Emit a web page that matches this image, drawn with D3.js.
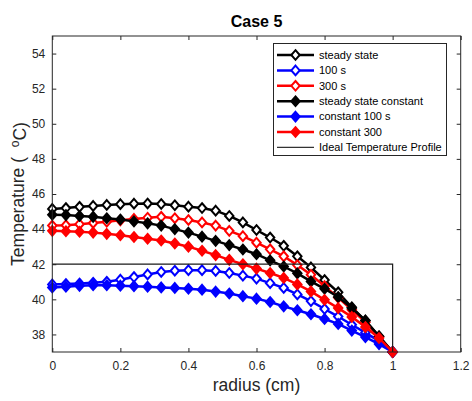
<!DOCTYPE html>
<html>
<head>
<meta charset="utf-8">
<script src="https://cdn.jsdelivr.net/npm/d3@7"></script>
<style>
  body { margin: 0; background: #fff; }
  text { font-family: "Liberation Sans", Arial, sans-serif; }
</style>
</head>
<body>
<div id="container"></div>
<script>
/* DATA */
const radius = d3.range(26).map(i => +(i * 0.04).toFixed(2));

const steadyState = [45.15, 45.2, 45.27, 45.32, 45.38, 45.42, 45.45, 45.46, 45.43, 45.36, 45.28, 45.2, 45.05,
  44.75, 44.38, 43.95, 43.52, 43.05, 42.45, 41.82, 41.1, 40.4, 39.55, 38.78, 37.9, 37.0];
const t100 = [40.85, 40.87, 40.9, 40.94, 41.0, 41.12, 41.27, 41.42, 41.56, 41.63, 41.66, 41.66, 41.62,
  41.5, 41.35, 41.18, 40.92, 40.65, 40.28, 39.9, 39.45, 39.02, 38.55, 38.1, 37.62, 37.0];
const t300 = [44.2, 44.22, 44.28, 44.35, 44.42, 44.5, 44.58, 44.65, 44.7, 44.62, 44.52, 44.38, 44.2,
  43.9, 43.6, 43.23, 42.85, 42.45, 41.95, 41.4, 40.75, 40.1, 39.4, 38.7, 37.85, 37.0];
const steadyConst = [44.82, 44.8, 44.75, 44.7, 44.62, 44.55, 44.44, 44.33, 44.2, 44.0, 43.8, 43.57, 43.33,
  43.09, 42.84, 42.57, 42.22, 41.87, 41.48, 41.02, 40.6, 40.13, 39.5, 38.8, 37.88, 37.0];
const const100 = [40.68, 40.72, 40.77, 40.8, 40.8, 40.78, 40.75, 40.72, 40.68, 40.65, 40.6, 40.55, 40.44,
  40.33, 40.18, 40.04, 39.85, 39.6, 39.38, 39.15, 38.88, 38.6, 38.22, 37.85, 37.45, 37.0];
const const300 = [43.9, 43.88, 43.85, 43.8, 43.73, 43.65, 43.55, 43.45, 43.35, 43.18, 43.0, 42.77, 42.52,
  42.25, 42.0, 41.75, 41.5, 41.22, 40.85, 40.45, 39.97, 39.5, 39.0, 38.42, 37.8, 37.0];

const idealX = [0, 1, 1];
const idealY = [42, 42, 37];

const seriesNames = ["steady state", "100 s", "300 s", "steady state constant", "constant 100 s", "constant 300"];
const seriesValues = [steadyState, t100, t300, steadyConst, const100, const300];
const seriesColors = ["#000000", "#0000ff", "#ff0000", "#000000", "#0000ff", "#ff0000"];
const seriesOpen = [true, true, true, false, false, false];
const idealName = "Ideal Temperature Profile";

const xTicks = [0, 0.2, 0.4, 0.6, 0.8, 1, 1.2];
const yTicks = [38, 40, 42, 44, 46, 48, 50, 52, 54];

/* CONSTANTS */
const width = 472, height = 401;
const margin = {top: 36, bottom: 49, left: 52.3, right: 11.3};
const axisColor = "#262626";

const svg = d3.select("#container").append("svg")
  .attr("width", width)
  .attr("height", height);

// SCALES
const xScale = d3.scaleLinear().domain([0, 1.2]).range([margin.left, width - margin.right]);
const yScale = d3.scaleLinear().domain([37, 55]).range([height - margin.bottom, margin.top]);

// AXES (MATLAB style: ticks inside, box all round)
const x0 = margin.left, x1 = width - margin.right;
const y0 = height - margin.bottom, y1 = margin.top;

const xAxis = d3.axisBottom(xScale).tickValues(xTicks).tickSizeInner(-4).tickSizeOuter(0).tickPadding(9)
  .tickFormat(d => d3.format("")(+d.toFixed(1)));
svg.append("g").attr("transform", `translate(0,${y0})`).call(xAxis)
  .call(g => g.select(".domain").remove())
  .call(g => g.selectAll("line").attr("stroke", axisColor))
  .call(g => g.selectAll("text").attr("fill", axisColor).style("font-size", "12px"));

const yAxis = d3.axisLeft(yScale).tickValues(yTicks).tickSizeInner(-4).tickSizeOuter(0).tickPadding(7);
svg.append("g").attr("transform", `translate(${x0},0)`).call(yAxis)
  .call(g => g.select(".domain").remove())
  .call(g => g.selectAll("line").attr("stroke", axisColor))
  .call(g => g.selectAll("text").attr("fill", axisColor).style("font-size", "12px"));

// top and right ticks
svg.append("g").attr("transform", `translate(0,${y1})`)
  .call(d3.axisTop(xScale).tickValues(xTicks).tickSizeInner(-4).tickSizeOuter(0).tickFormat(""))
  .call(g => g.select(".domain").remove())
  .call(g => g.selectAll("line").attr("stroke", axisColor));
svg.append("g").attr("transform", `translate(${x1},0)`)
  .call(d3.axisRight(yScale).tickValues(yTicks).tickSizeInner(-4).tickSizeOuter(0).tickFormat(""))
  .call(g => g.select(".domain").remove())
  .call(g => g.selectAll("line").attr("stroke", axisColor));

// CURVES
const diamond = "M0,-4.8L4.2,0L0,4.8L-4.2,0Z";
const lineGen = d3.line()
  .x((d, i) => xScale(radius[i]))
  .y(d => yScale(d));

seriesValues.forEach((vals, s) => {
  const g = svg.append("g");
  g.append("path")
    .attr("d", lineGen(vals))
    .attr("fill", "none")
    .attr("stroke", seriesColors[s])
    .attr("stroke-width", 2.5);
  g.selectAll("path.mk")
    .data(vals)
    .join("path")
    .attr("class", "mk")
    .attr("d", diamond)
    .attr("transform", (d, i) => `translate(${xScale(radius[i])},${yScale(d)})`)
    .attr("fill", seriesOpen[s] ? "#ffffff" : seriesColors[s])
    .attr("stroke", seriesColors[s])
    .attr("stroke-width", 2);
});

// ideal profile
svg.append("path")
  .attr("d", d3.line().x((d, i) => xScale(idealX[i])).y(d => yScale(d))(idealY))
  .attr("fill", "none")
  .attr("stroke", "#1a1a1a")
  .attr("stroke-width", 1.2);

// BOX
svg.append("rect")
  .attr("x", x0).attr("y", y1)
  .attr("width", x1 - x0).attr("height", y0 - y1)
  .attr("fill", "none")
  .attr("stroke", axisColor)
  .attr("stroke-width", 1);

// LEGEND
const leg = svg.append("g");
leg.append("rect")
  .attr("x", 273.5).attr("y", 43.5).attr("width", 173).attr("height", 112)
  .attr("fill", "#ffffff").attr("stroke", axisColor).attr("stroke-width", 1);
const legY = i => 55 + i * 15.4;
seriesNames.forEach((name, s) => {
  leg.append("line")
    .attr("x1", 277).attr("x2", 314).attr("y1", legY(s)).attr("y2", legY(s))
    .attr("stroke", seriesColors[s]).attr("stroke-width", 2.5);
  leg.append("path")
    .attr("d", diamond)
    .attr("transform", `translate(295.5,${legY(s)})`)
    .attr("fill", seriesOpen[s] ? "#ffffff" : seriesColors[s])
    .attr("stroke", seriesColors[s]).attr("stroke-width", 2);
  leg.append("text")
    .attr("x", 319).attr("y", legY(s)).attr("dy", "0.35em")
    .style("font-size", "11px").attr("fill", "#000")
    .text(name);
});
leg.append("line")
  .attr("x1", 277).attr("x2", 314).attr("y1", legY(6)).attr("y2", legY(6))
  .attr("stroke", "#333").attr("stroke-width", 1.2);
leg.append("text")
  .attr("x", 319).attr("y", legY(6)).attr("dy", "0.35em")
  .style("font-size", "11px").attr("fill", "#000")
  .text(idealName);

// TITLE AND LABELS
svg.append("text")
  .attr("x", (x0 + x1) / 2).attr("y", 27)
  .attr("text-anchor", "middle")
  .style("font-size", "16px").style("font-weight", "bold")
  .text("Case 5");

svg.append("text")
  .attr("x", (x0 + x1) / 2).attr("y", 391)
  .attr("text-anchor", "middle")
  .attr("fill", axisColor)
  .style("font-size", "17.5px")
  .text("radius (cm)");

const yl = svg.append("text")
  .attr("transform", `translate(24,${(y0 + y1) / 2}) rotate(-90)`)
  .attr("text-anchor", "middle")
  .attr("fill", axisColor)
  .style("font-size", "17.5px");
yl.append("tspan").text("Temperature (\u00a0\u00a0");
yl.append("tspan").attr("dy", "-0.45em").style("font-size", "12px").text("o");
yl.append("tspan").attr("dy", "0.45em").text("C)");
</script>
</body>
</html>
